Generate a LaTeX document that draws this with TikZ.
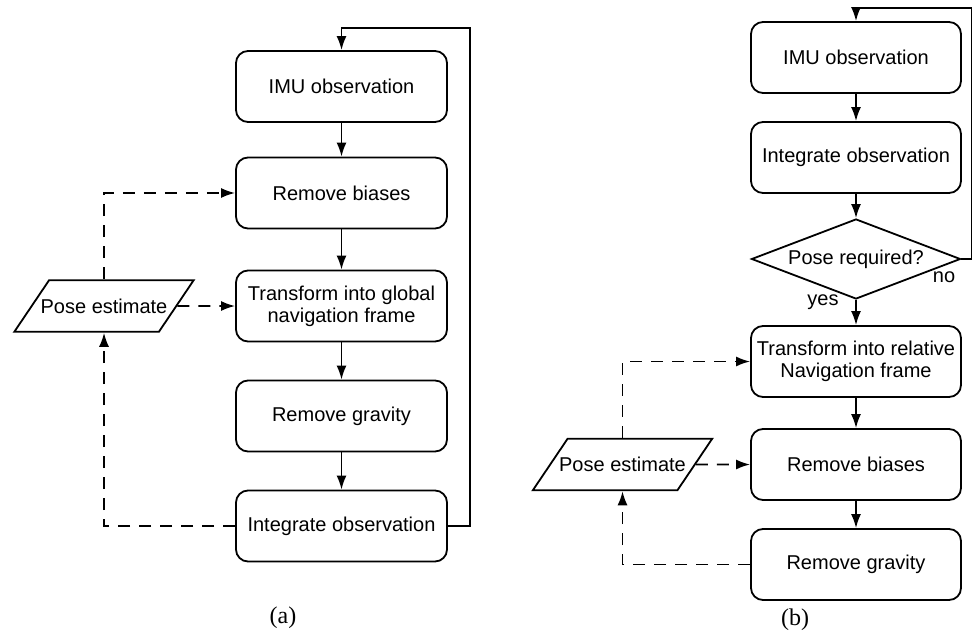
\documentclass[tikz,border=0pt]{standalone}
\usepackage{fontspec}
\setmainfont{Liberation Sans}
\newfontfamily\capfont{Liberation Serif}
\usetikzlibrary{arrows.meta,shapes.geometric}

\begin{document}
\begin{tikzpicture}[x=1pt,y=-1pt,
  stepbox/.style={rectangle,rounded corners=12pt,draw=black,line width=1.8pt,minimum width=211pt,minimum height=71pt,align=center,inner sep=1pt,font=\fontsize{20}{22}\selectfont},
  askbox/.style={diamond,draw=black,line width=1.8pt,aspect=2.6,minimum width=209pt,minimum height=80pt,inner sep=0pt,font=\fontsize{20}{22}\selectfont},
  databox/.style={trapezium,trapezium left angle=56,trapezium right angle=124,draw=black,line width=1.8pt,inner xsep=-8.5pt,inner ysep=18.5pt,font=\fontsize{20}{22}\selectfont},
  flow/.style={-{Latex[length=14pt,width=10pt]},line width=1.8pt},
  dashflow/.style={flow,dash pattern=on 12pt off 9pt},
  tag/.style={font=\fontsize{20}{22}\selectfont,inner sep=0pt}]
  \useasboundingbox (0,0) rectangle (973,636);

  % (a)
  \node[stepbox] (imuA) at (341.5,86.5) {IMU observation};
  \node[stepbox] (biasA) at (341.5,193) {Remove biases};
    \draw[flow] (imuA) -- (biasA);
  \node[stepbox] (transA) at (341.5,306) {Transform into global\\navigation frame};
    \draw[flow] (biasA) -- (transA);
  \node[stepbox] (gravA) at (341.5,416) {Remove gravity};
    \draw[flow] (transA) -- (gravA);
  \node[stepbox] (integA) at (341.5,526) {Integrate observation};
    \draw[flow] (gravA) -- (integA);
  \coordinate (loopA) at (470,28);
    \draw[flow] (integA.east) -| (loopA) -| (imuA.north);
  \node[databox] (poseA) at (104,306) {Pose estimate};
    \draw[dashflow] (poseA.north) |- (biasA.west);
    \draw[dashflow] (poseA) -- (transA);
    \draw[dashflow] (integA.west) -| (poseA.south);
  \node[font=\capfont\fontsize{24}{26}\selectfont] (capA) at (283,618) {(a)};

  % (b)
  \node[stepbox,minimum width=210pt] (imuB) at (856,57.5) {IMU observation};
  \node[stepbox,minimum width=210pt] (integB) at (856,157.5) {Integrate observation};
    \draw[flow] (imuB) -- (integB);
  \node[askbox] (askB) at (856,259) {Pose required?};
    \draw[flow] (integB) -- (askB);
  \coordinate (loopB) at (971.5,8);
    \draw[flow] (askB.east) -| (loopB) -| (imuB.north);
  \node[tag] (noB) at (944,277) {no};
  \node[stepbox,minimum width=210pt] (transB) at (856,361.5) {Transform into relative\\Navigation frame};
    \draw[flow] (askB) -- (transB);
  \node[tag] (yesB) at (823,302) {yes};
  \node[stepbox,minimum width=210pt] (biasB) at (856,464.5) {Remove biases};
    \draw[flow] (transB) -- (biasB);
  \node[stepbox,minimum width=210pt] (gravB) at (856,564.5) {Remove gravity};
    \draw[flow] (biasB) -- (gravB);
  \node[databox] (poseB) at (622.5,464.5) {Pose estimate};
    \draw[dashflow] (poseB.north) |- (transB.west);
    \draw[dashflow] (poseB) -- (biasB);
    \draw[dashflow] (gravB.west) -| (poseB.south);
  \node[font=\capfont\fontsize{24}{26}\selectfont] (capB) at (795,620) {(b)};

\end{tikzpicture}
\end{document}
